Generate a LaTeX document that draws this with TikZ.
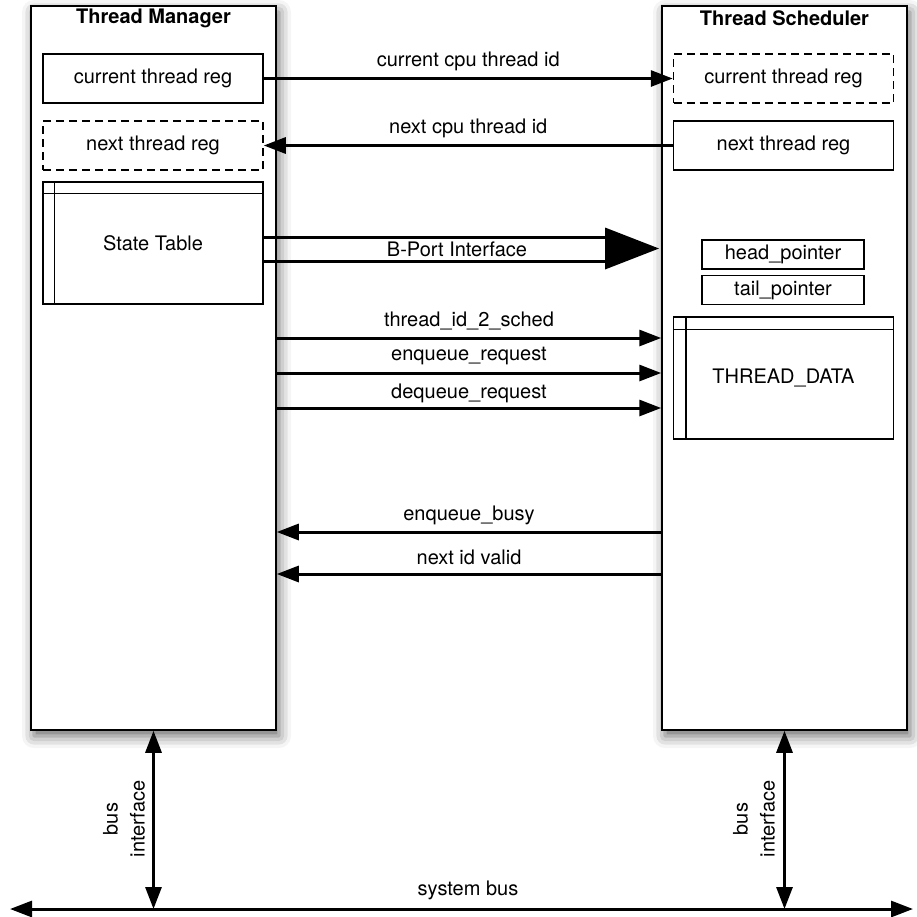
\documentclass[tikz,border=0pt]{standalone}
\usepackage{fontspec}
\setmainfont{TeX Gyre Heros}
\usetikzlibrary{arrows.meta,calc,shadows.blur}
\tikzset{
  mod/.style={draw, line width=0.75pt, fill=white, minimum width=122.5pt, minimum height=362pt, inner sep=0pt,
    blur shadow={shadow xshift=1.5pt, shadow yshift=-3pt, shadow blur radius=6pt, shadow opacity=60}},
  reg/.style={draw, line width=0.75pt, minimum width=110pt, minimum height=24.5pt, inner sep=0pt},
  dreg/.style={reg, dash pattern=on 4pt off 2.5pt},
  ptr/.style={draw, line width=0.75pt, minimum width=81pt, minimum height=14.5pt, inner sep=0pt},
  tbl/.style={draw, line width=0.75pt, minimum width=110pt, minimum height=61pt, inner sep=0pt},
  tip/.tip={Triangle[length=11pt,width=8pt]},
  sig/.style={line width=1.5pt, -tip},
  dbl/.style={line width=1.5pt, tip-tip},
  lbl/.style={midway, yshift=8.5pt, inner sep=0pt},
  ttl/.style={font=\fontsize{10}{12}\selectfont\bfseries},
}
\begin{document}
\begin{tikzpicture}[x=0.5pt,y=-0.5pt, font=\fontsize{10}{13.5}\selectfont]
\useasboundingbox (0,0) rectangle (917,917);

% modules
\node[mod] (tm) at (153.5,368) {};
\node[mod] (ts) at (784.5,368) {};
\node[ttl] (tmt) at (153.5,18) {Thread Manager};
\node[ttl] (tst) at (784.5,18) {Thread Scheduler};

% left contents
\node[reg] (ctr1) at (153,78.5) {current thread reg};
\node[dreg] (ntr1) at (153,145.5) {next thread reg};
\node[tbl] (st) at (153,243) {State Table};
\draw[line width=0.75pt] ($(st.north west)+(0,12)$) -- ($(st.north east)+(0,12)$);
\draw[line width=0.75pt] ($(st.north west)+(12,0)$) -- ($(st.south west)+(12,0)$);

% right contents
\node[dreg] (ctr2) at (783.5,78.5) {current thread reg};
\node[reg] (ntr2) at (783.5,145.5) {next thread reg};
\node[ptr] (hp) at (783,254.5) {head\_pointer};
\node[ptr] (tp) at (783,290) {tail\_pointer};
\node[tbl] (td) at (783.5,378) {THREAD\_DATA};
\draw[line width=0.75pt] ($(td.north west)+(0,13)$) -- ($(td.north east)+(0,13)$);
\draw[line width=0.75pt] ($(td.north west)+(13,0)$) -- ($(td.south west)+(13,0)$);

% register connectors
\draw[sig] (ctr1.east) -- node[lbl]{current cpu thread id} (ctr2.west);
\draw[sig] (ntr2.west) -- node[lbl]{next cpu thread id} (ntr1.east);

% B-Port interface
\coordinate (bpa) at (605,237);
\coordinate (bpb) at (605,261);
\coordinate (bptip) at (659,248.5);
\draw[line width=1.5pt] (st.east |- bpa) -- (bpa);
\draw[line width=1.5pt] (st.east |- bpb) -- (bpb);
\fill (605,227.5) -- (bptip) -- (605,269.5) -- cycle;
\node (bpl) at (457,249) {B-Port Interface};

% control signals
\coordinate (y1) at (0,338);
\coordinate (y2) at (0,373);
\coordinate (y3) at (0,408);
\coordinate (y4) at (0,532);
\coordinate (y5) at (0,574);
\draw[sig] (tm.east |- y1) -- node[lbl]{thread\_id\_2\_sched} (ts.west |- y1);
\draw[sig] (tm.east |- y2) -- node[lbl]{enqueue\_request} (ts.west |- y2);
\draw[sig] (tm.east |- y3) -- node[lbl,yshift=-1pt]{dequeue\_request} (ts.west |- y3);
\draw[sig] (ts.west |- y4) -- node[lbl]{enqueue\_busy} (tm.east |- y4);
\draw[sig] (ts.west |- y5) -- node[lbl]{next id valid} (tm.east |- y5);

% system bus
\coordinate (busL) at (10,909);
\coordinate (busR) at (913,909);
\draw[dbl] (busL) -- (busR);
\node (sbl) at (468,890) {system bus};
\draw[dbl] (tm.south) -- (tm.south |- busL);
\draw[dbl] (ts.south) -- (ts.south |- busL);
\node[rotate=90, align=center] (bil) at (124,819) {bus\\interface};
\node[rotate=90, align=center] (bir) at (754,819) {bus\\interface};
\end{tikzpicture}
\end{document}
